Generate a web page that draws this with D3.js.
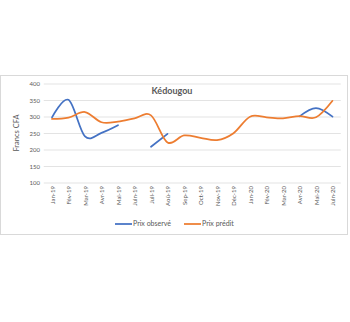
<!DOCTYPE html>
<html><head><meta charset="utf-8">
<script src="https://cdn.jsdelivr.net/npm/d3@7/dist/d3.min.js"></script>
<style>html,body{margin:0;padding:0;background:#fff;}</style>
</head><body>
<svg id="c" width="350" height="322"></svg>
<script>
const categories = ["Jan-19","Fév-19","Mar-19","Avr-19","Mai-19","Juin-19","Juil-19","Aoû-19","Sep-19","Oct-19","Nov-19","Déc-19","Jan-20","Fév-20","Mar-20","Avr-20","Mai-20","Juin-20"];
const observed = [299, 352, 241, 252, 275, null, 210, 249, null, null, null, null, null, null, null, 302, 327, 301];
const predicted = [294, 298, 315, 284, 286, 296, 305, 223, 244, 237, 230, 251, 301, 299, 296, 303, 299, 349];
const yTicks = [100, 150, 200, 250, 300, 350, 400];
const title = "Kédougou";
const yTitle = "Francs CFA";
const seriesNames = ["Prix observé", "Prix prédit"];
const colors = ["#4472C4", "#ED7D31"];

const svg = d3.select("#c");
const font = "Lato, 'Open Sans', sans-serif";
const txt = "#595959";

// chart frame
svg.append("rect").attr("x", 0.5).attr("y", 75.5).attr("width", 347).attr("height", 159)
  .attr("fill", "#fff").attr("stroke", "#D9D9D9").attr("stroke-width", 1);

const x = d3.scalePoint().domain(categories).range([52, 332.5]).padding(0);
const y = d3.scaleLinear().domain([100, 400]).range([183, 84]);
const step = x.step();

// gridlines
svg.append("g").selectAll("line").data(yTicks).join("line")
  .attr("x1", 52 - step/2).attr("x2", 332.5 + step/2)
  .attr("y1", d => y(d)).attr("y2", d => y(d))
  .attr("stroke", "#D9D9D9").attr("stroke-width", 0.75);

// y axis labels
const yAxis = d3.axisLeft(y).tickValues(yTicks).tickSize(0).tickPadding(0);
const ya = svg.append("g").attr("transform", "translate(40,0)").call(yAxis);
ya.select(".domain").remove();
ya.selectAll("text").attr("fill", txt).style("font-family", font).style("font-size", "6px");

// x axis labels
const xAxis = d3.axisBottom(x).tickSize(0).tickPadding(0);
const xa = svg.append("g").attr("transform", "translate(0,186)").call(xAxis);
xa.select(".domain").remove();
xa.selectAll("text").attr("fill", txt).style("font-family", font).style("font-size", "6px")
  .attr("text-anchor", "end").attr("transform", "rotate(-90)").attr("x", 0).attr("y", 0).attr("dy", "0.35em").attr("dx", 0);

// y title
svg.append("text").attr("transform", "translate(19,133) rotate(-90)").attr("text-anchor", "middle")
  .attr("fill", txt).style("font-family", font).style("font-size", "7.5px").text(yTitle);

// title
svg.append("text").attr("x", 172).attr("y", 94).attr("text-anchor", "middle")
  .attr("fill", txt).style("font-family", font).style("font-size", "9px").style("font-weight", "bold").text(title);

// lines
const line = d3.line().defined(d => d != null).x((d, i) => x(categories[i])).y(d => y(d))
  .curve(d3.curveCardinal.tension(0));
[observed, predicted].forEach((s, k) => {
  svg.append("path").attr("d", line(s)).attr("fill", "none")
    .attr("stroke", colors[k]).attr("stroke-width", 1.75).attr("stroke-linecap", "round");
});

// legend
const lg = [{x: 115, name: seriesNames[0], c: colors[0]}, {x: 184, name: seriesNames[1], c: colors[1]}];
lg.forEach(l => {
  svg.append("line").attr("x1", l.x).attr("x2", l.x + 17).attr("y1", 224).attr("y2", 224)
    .attr("stroke", l.c).attr("stroke-width", 1.75);
  svg.append("text").attr("x", l.x + 18).attr("y", 224).attr("dy", "0.35em")
    .attr("fill", txt).style("font-family", font).style("font-size", "7px").text(l.name);
});
</script>
</body></html>
